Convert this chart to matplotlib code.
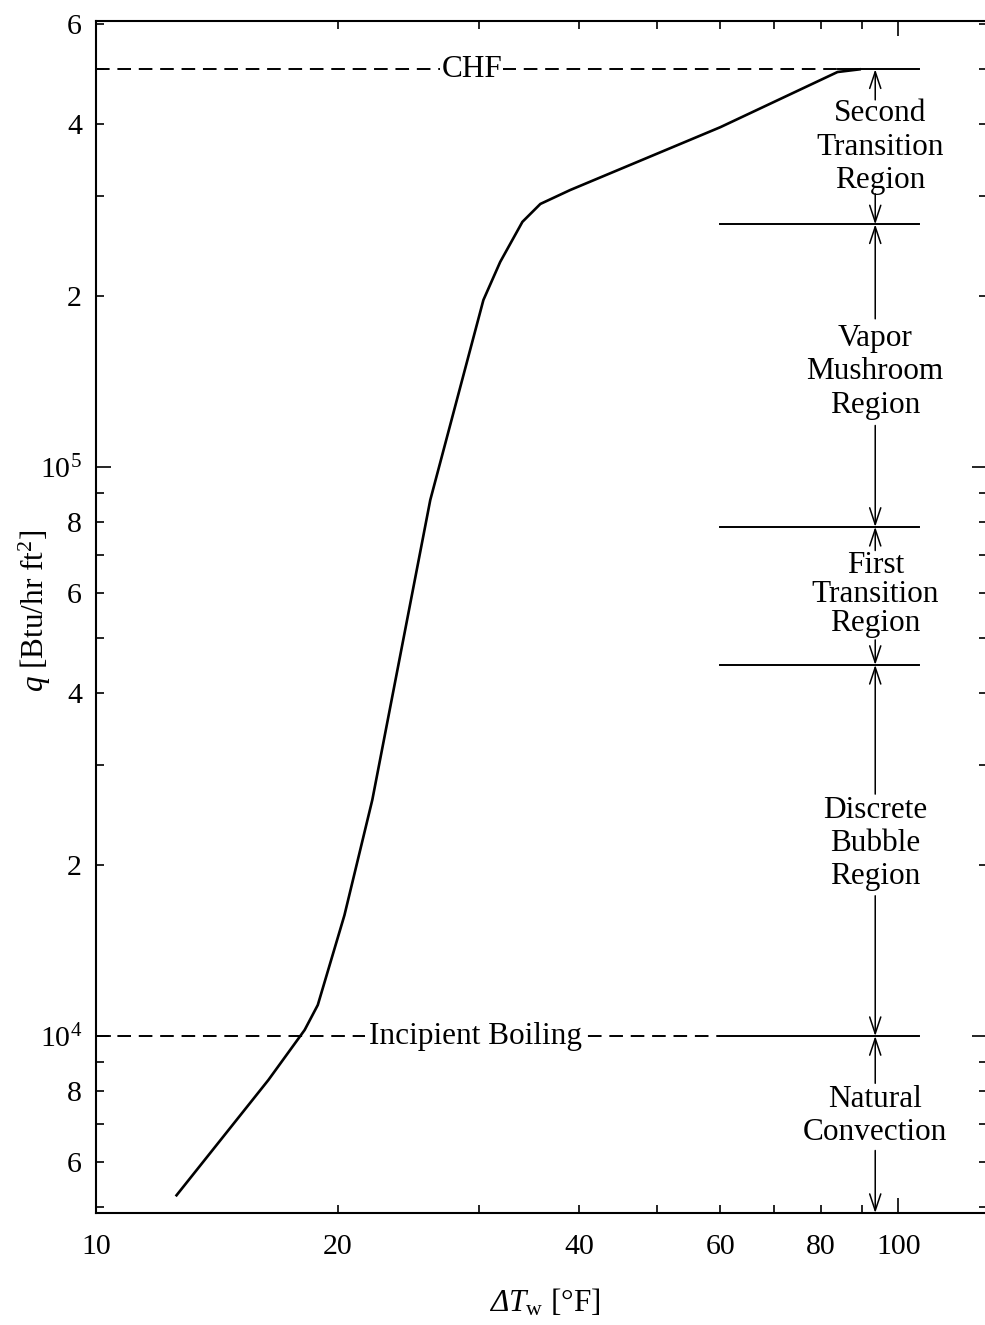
import numpy as np
import matplotlib.pyplot as plt
from matplotlib.ticker import FixedLocator, FuncFormatter

plt.rcParams['font.family'] = 'serif'
plt.rcParams['font.serif'] = ['Liberation Serif', 'DejaVu Serif']
plt.rcParams['mathtext.fontset'] = 'custom'
plt.rcParams['mathtext.rm'] = 'Liberation Serif'
plt.rcParams['mathtext.it'] = 'Liberation Serif:italic'
plt.rcParams['mathtext.bf'] = 'Liberation Serif:bold'
# italic slot for the Greek capital (mathtext forces Greek capitals upright in \mathit)
plt.rcParams['mathtext.sf'] = 'Liberation Serif:italic'

# boiling curve: wall superheat [F] vs heat flux [Btu/hr ft2]
dT = [12.6, 16.4, 18.2, 18.9, 20.4, 22.1, 26.1, 30.4, 31.9, 34.0, 35.8, 39.0, 60.0, 84.0, 89.5]
q = [5250, 8370, 10250, 11340, 16300, 26000, 87500, 196600, 229300, 269700, 290000, 306800,
     395600, 494600, 500000]

q_chf = 5.0e5
q_ib = 1.0e4
q_bounds = [2.67e5, 7.85e4, 4.49e4]

regions = ['Second\nTransition\nRegion', 'Vapor\nMushroom\nRegion', 'First\nTransition\nRegion',
           'Discrete\nBubble\nRegion', 'Natural\nConvection']
region_q = [3.65e5, 1.47e5, 5.98e4, 2.18e4, 7.23e3]
# arrow ends above / below each region (upper limit, lower limit)
region_lims = [(q_chf, 2.67e5), (2.67e5, 7.85e4), (7.85e4, 4.49e4), (4.49e4, q_ib), (q_ib, 4887)]
# gap left for the text, in points above/below the limits
arrow_gap = [(22, 22), (68, 73), (17, 18), (93, 101), (34, 45)]

x_lines = (60.0, 106.0)
x_arrow = 93.6
fs = 22.5

fig = plt.figure(figsize=(9.85, 13.25), dpi=100)
ax = fig.add_axes([96/985, 112/1325, 891/985, 1192/1325])
ax.set_xscale('log')
ax.set_yscale('log')
ax.set_xlim(10, 129)
ax.set_ylim(4887, 6.08e5)

ax.plot(dT, q, color='black', lw=1.9, solid_joinstyle='round')

dash = (0, (7, 4))
ax.plot([10, dT[-2]], [q_chf, q_chf], color='black', lw=1.4, ls=dash)
ax.plot([dT[-2], x_lines[1]], [q_chf, q_chf], color='black', lw=1.4)
ax.plot([10, x_lines[0]], [q_ib, q_ib], color='black', lw=1.4, ls=dash)
ax.plot(x_lines, [q_ib, q_ib], color='black', lw=1.4)
for qb in q_bounds:
    ax.plot(x_lines, [qb, qb], color='black', lw=1.4)

ax.text(29.4, q_chf, 'CHF', fontsize=fs, ha='center', va='center',
        bbox=dict(fc='white', ec='none', pad=1))
ax.text(29.7, q_ib, 'Incipient Boiling', fontsize=fs, ha='center', va='center',
        bbox=dict(fc='white', ec='none', pad=3))

arrow = dict(arrowstyle='->, head_length=0.6, head_width=0.2', color='black', lw=1.1,
             shrinkA=0, shrinkB=0, mutation_scale=20)
for name, qc, (hi, lo), (gh, gl) in zip(regions, region_q, region_lims, arrow_gap):
    ls = 1.0 if name.startswith('First') else 1.2
    ax.text(x_arrow * (1.015 if name.startswith('Second') else 1.0), qc, name, fontsize=fs,
            ha='center', va='center', linespacing=ls)
    ax.annotate('', xy=(x_arrow, hi), xytext=(0, -gh), textcoords='offset points',
                arrowprops=arrow)
    ax.annotate('', xy=(x_arrow, lo), xytext=(0, gl), textcoords='offset points',
                arrowprops=arrow, annotation_clip=False)

# ticks
x_labelled = [20, 40, 60, 80]
ax.xaxis.set_major_locator(FixedLocator([10, 100]))
ax.xaxis.set_minor_locator(FixedLocator([20, 30, 40, 50, 60, 70, 80, 90]))
ax.xaxis.set_major_formatter(FuncFormatter(lambda v, p: f'{v:.0f}'))
ax.xaxis.set_minor_formatter(FuncFormatter(lambda v, p: f'{v:.0f}' if round(v) in x_labelled else ''))

y_minor = [k * 10.0**d for d in (3, 4, 5) for k in range(2, 10)]
ax.yaxis.set_major_locator(FixedLocator([1e4, 1e5]))
ax.yaxis.set_minor_locator(FixedLocator(y_minor))
ax.yaxis.set_major_formatter(FuncFormatter(lambda v, p: r'$10^{%d}$' % round(np.log10(v))))


def minor_label(v, p):
    m = round(v / 10**np.floor(np.log10(v) + 1e-9))
    return f'{m}' if m in (2, 4, 6, 8) else ''


ax.yaxis.set_minor_formatter(FuncFormatter(minor_label))

ax.tick_params(which='both', direction='in', top=True, right=True, labelsize=21.5, width=1.2)
ax.tick_params(which='major', length=11)
ax.tick_params(which='minor', length=5.5)
ax.tick_params(axis='y', which='both', pad=10)
ax.tick_params(axis='x', which='both', pad=15)
for s in ax.spines.values():
    s.set_linewidth(1.5)

fig.text(545/985, 1 - 1303/1325, r'$\mathsf{Δ}T_\mathrm{w}$ [°F]', fontsize=fs,
         ha='center', va='center')
fig.text(35/985, 1 - 611/1325, r'$q$ [Btu/hr ft$^2$]', fontsize=fs, ha='center', va='center',
         rotation=90)

fig.savefig('out.png', dpi=100)
